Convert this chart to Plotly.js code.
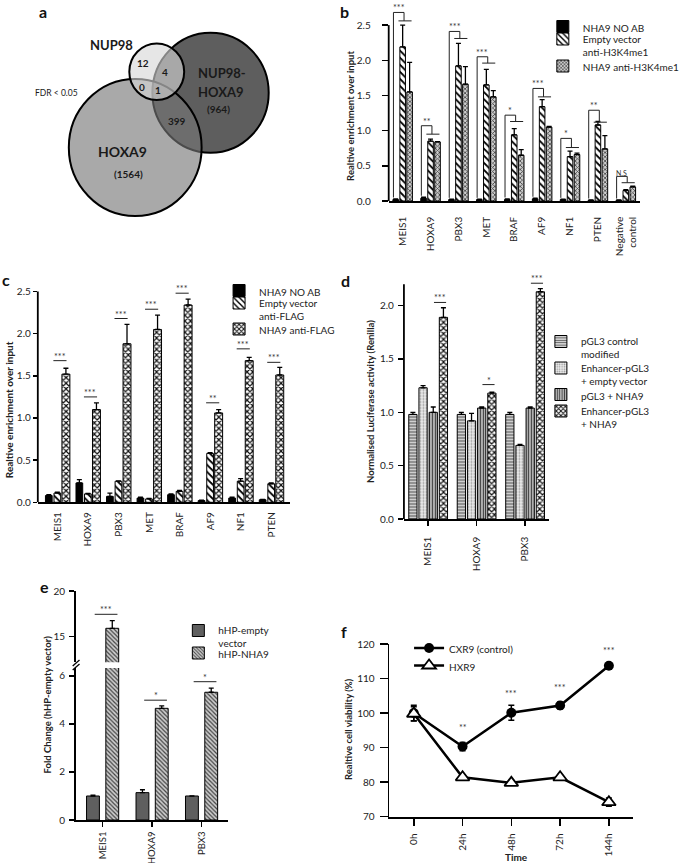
<!DOCTYPE html>
<html><head><meta charset="utf-8">
<script src="https://cdn.plot.ly/plotly-3.0.1.min.js"></script>
<style>html,body{margin:0;padding:0;background:#fff}#chart{width:685px;height:863px}</style>
</head><body><div id="chart"></div>
<script>
// ---------------- DATA ----------------
// Panel a (Venn)
const vennSetNames = ['NUP98', 'NUP98-HOXA9', 'HOXA9'];
const vennSetTotals = ['', '(964)', '(1564)'];
const vennRegionCounts = ['12', '4', '0', '1', '399'];
const vennNote = 'FDR < 0.05';

// Panel b
const bGenes = ['MEIS1','HOXA9','PBX3','MET','BRAF','AF9','NF1','PTEN','Negative<br>control'];
const bNoAb = [0.02,0.04,0.02,0.02,0.02,0.03,0.02,0.01,0.01];
const bNoAbErr = [0.01,0.015,0.005,0.005,0.01,0.01,0.005,0.005,0.005];
const bEmpty = [2.19,0.85,1.92,1.65,0.94,1.34,0.63,1.08,0.15];
const bEmptyErr = [0.31,0.03,0.32,0.22,0.09,0.10,0.08,0.05,0.01];
const bNha9 = [1.55,0.84,1.66,1.48,0.65,1.05,0.66,0.74,0.20];
const bNha9Err = [0.42,0.005,0.25,0.09,0.08,0.01,0.02,0.19,0.01];
const bSig = ['***','**','***','***','*','***','*','**','N.S'];
const bSigTop = [2.68,1.07,2.41,2.05,1.22,1.60,0.89,1.29,0.35];
const bSigLow = [2.56,0.95,2.31,1.96,1.13,1.48,0.76,1.12,0.26];
const bNames = ['NHA9 NO AB','Empty vector<br>anti-H3K4me1','NHA9 anti-H3K4me1'];

// Panel c
const cGenes = ['MEIS1','HOXA9','PBX3','MET','BRAF','AF9','NF1','PTEN'];
const cNoAb = [0.08,0.23,0.07,0.05,0.09,0.02,0.05,0.03];
const cNoAbErr = [0.01,0.04,0.04,0.01,0.01,0.005,0.01,0.005];
const cEmpty = [0.11,0.10,0.25,0.04,0.13,0.58,0.25,0.22];
const cEmptyErr = [0.01,0.005,0.005,0.005,0.01,0.01,0.03,0.01];
const cNha9 = [1.52,1.10,1.88,2.05,2.34,1.06,1.68,1.51];
const cNha9Err = [0.07,0.08,0.23,0.17,0.07,0.04,0.04,0.09];
const cSig = ['***','***','***','***','***','**','***','***'];
const cSigY = [1.68,1.25,2.18,2.29,2.48,1.18,1.82,1.66];
const cNames = ['NHA9 NO AB','Empty vector<br>anti-FLAG','NHA9 anti-FLAG'];

// Panel d
const dGenes = ['MEIS1','HOXA9','PBX3'];
const dCtrl = [0.98,0.98,0.98];
const dCtrlErr = [0.02,0.02,0.02];
const dEnhEmpty = [1.23,0.92,0.69];
const dEnhEmptyErr = [0.02,0.07,0.01];
const dPgl3Nha9 = [1.00,1.04,1.04];
const dPgl3Nha9Err = [0.05,0.01,0.01];
const dEnhNha9 = [1.89,1.18,2.13];
const dEnhNha9Err = [0.09,0.01,0.03];
const dSig = ['***','*','***'];
const dSigY = [2.03,1.26,2.21];
const dNames = ['pGL3 control<br>modified','Enhancer-pGL3<br>+ empty vector','pGL3 + NHA9','Enhancer-pGL3<br>+ NHA9'];

// Panel e
const eGenes = ['MEIS1','HOXA9','PBX3'];
const eEmpty = [1.00,1.14,1.00];
const eEmptyErr = [0.03,0.12,0.005];
const eNha9 = [15.92,4.65,5.32];
const eNha9Err = [0.83,0.10,0.17];
const eSig = ['***','*','*'];
const eSigY = [17.45,4.99,5.76];
const eNames = ['hHP-empty<br>vector','hHP-NHA9'];

// Panel f
const fTimes = ['0h','24h','48h','72h','144h'];
const fCxr9 = [100.0,90.3,100.1,102.2,113.7];
const fCxr9Err = [2.3,1.2,2.2,1.0,0.5];
const fHxr9 = [99.8,81.4,79.8,81.4,74.2];
const fHxr9Err = [2.0,0.5,0.5,0.5,1.2];
const fSig = ['','**','***','***','***'];
const fSigY = [null,94.5,104.5,106.0,116.9];
const fNames = ['CXR9 (control)','HXR9'];

// ---------------- LAYOUT HELPERS ----------------
const W = 685, H = 863;
const FONT = 'Lato, "Liberation Sans", sans-serif';
const hx = (a,b) => [a/W, b/W];
const vy = (t,b) => [1-b/H, 1-t/H];
const px = x => x/W, py = y => 1-y/H;
const TXT = '#222';

const traces = [], shapes = [], ann = [];
const OUT = {color:'#000', width:1};
const legends = {};
let legCount = 0;
function newLegend(xpx, ytop){
  legCount++;
  const id = legCount === 1 ? 'legend' : 'legend' + legCount;
  legends[id] = {x:px(xpx),y:py(ytop),xanchor:'left',yanchor:'top',valign:'top',bgcolor:'rgba(0,0,0,0)',
    font:{family:FONT,size:10,color:TXT},tracegroupgap:0,itemclick:false,itemdoubleclick:false,itemwidth:30};
  return id;
}

function errUp(arr){return {type:'data',array:arr,arrayminus:arr.map(()=>0),symmetric:false,color:'#000',thickness:1.3,width:2.5};}
function addBar(xa,ya,cats,vals,errs,name,center,wid,marker,legend){
  traces.push({type:'bar',x:cats,y:vals,error_y:errUp(errs),name:name,offset:center-wid/2,width:wid,
    xaxis:xa,yaxis:ya,marker:Object.assign({line:OUT},marker),legend:legend||'legend',showlegend:!!legend,hoverinfo:'skip'});
}
function seg(xr,yr,x0,y0,x1,y1,w){shapes.push({type:'line',xref:xr,yref:yr,x0:x0,y0:y0,x1:x1,y1:y1,line:{color:'#222',width:w||1}});}
function star(xr,yr,x,y,t,sz){ann.push({xref:xr,yref:yr,x:x,y:y,text:t,showarrow:false,yanchor:'bottom',yshift:-3,font:{family:FONT,size:sz||9,color:'#333'}});}
function ax(o){return Object.assign({showgrid:false,zeroline:false,showline:true,linecolor:'#000',linewidth:1.8,
  ticks:'outside',ticklen:5,tickwidth:1.5,tickcolor:'#000',tickfont:{family:FONT,size:10,color:TXT},fixedrange:true},o);}
function yline(xr,yr,top){shapes.push({type:'line',xref:xr+' domain',yref:yr,x0:0,x1:0,y0:0,y1:top,line:{color:'#000',width:1.8}});}
function ytitle(text,xpx,ypx,size){ann.push({xref:'paper',yref:'paper',x:px(xpx),y:py(ypx),text:'<b>'+text+'</b>',textangle:-90,showarrow:false,
  xanchor:'center',yanchor:'middle',font:{family:FONT,size:size||10,color:TXT}});}
function letter(t,xpx,ypx){ann.push({xref:'paper',yref:'paper',x:px(xpx),y:py(ypx),text:'<b>'+t+'</b>',showarrow:false,
  xanchor:'left',yanchor:'top',font:{family:FONT,size:16,color:'#111'}});}

// ---------------- PANEL B ----------------
const patHatch = {shape:'\\',fgcolor:'#000',bgcolor:'#fff',size:5,solidity:0.35};
addBar('x','y',bGenes,bNoAb,bNoAbErr,bNames[0],-0.25,0.2,{color:'#000'},newLegend(560,13.5));
addBar('x','y',bGenes,bEmpty,bEmptyErr,bNames[1],0,0.2,{color:'#fff',pattern:patHatch},newLegend(560,26));
addBar('x','y',bGenes,bNha9,bNha9Err,bNames[2],0.25,0.2,{color:'#ccc',pattern:{shape:'x',fgcolor:'#444',bgcolor:'#ccc',size:3,solidity:0.45}},newLegend(560,53));
yline('x','y',2.5);
bGenes.forEach((g,i)=>{
  const xl=i-0.33, xs=i+0.05;
  seg('x','y',xl,bNoAb[i]+bNoAbErr[i]+0.02,xl,bSigTop[i]);
  seg('x','y',xl,bSigTop[i],xs,bSigTop[i]);
  seg('x','y',xs,bSigTop[i],xs,bSigLow[i]);
  seg('x','y',i-0.15,bSigLow[i],i+0.32,bSigLow[i]);
  star('x','y',(xl+xs)/2,bSigTop[i],bSig[i],bSig[i]==='N.S'?7:9);
});
ytitle('Realtive enrichment over input',362,116,9.5);
letter('b',349,0);

// ---------------- PANEL C ----------------
addBar('x2','y2',cGenes,cNoAb,cNoAbErr,cNames[0],-0.29,0.22,{color:'#000'},newLegend(226,277.5));
addBar('x2','y2',cGenes,cEmpty,cEmptyErr,cNames[1],-0.01,0.22,{color:'#fff',pattern:patHatch},newLegend(226,290));
addBar('x2','y2',cGenes,cNha9,cNha9Err,cNames[2],0.27,0.26,{color:'#fff',pattern:{shape:'x',fgcolor:'#111',bgcolor:'#fff',size:4,solidity:0.5}},newLegend(226,316));
yline('x2','y2',2.5);
cGenes.forEach((g,i)=>{
  seg('x2','y2',i-0.14,cSigY[i],i+0.29,cSigY[i]);
  star('x2','y2',i+0.07,cSigY[i],cSig[i]);
});
ytitle('Realtive enrichment over input',9.5,410,10);
letter('c',0,268);

// ---------------- PANEL D ----------------
addBar('x3','y3',dGenes,dCtrl,dCtrlErr,dNames[0],-0.315,0.17,{color:'#ddd',pattern:{shape:'-',fgcolor:'#555',bgcolor:'#ddd',size:3,solidity:0.4}},newLegend(558,328.5));
addBar('x3','y3',dGenes,dEnhEmpty,dEnhEmptyErr,dNames[1],-0.105,0.17,{color:'#e8e8e8',pattern:{shape:'.',fgcolor:'#999',bgcolor:'#ececec',size:3,solidity:0.3}},newLegend(558,355));
addBar('x3','y3',dGenes,dPgl3Nha9,dPgl3Nha9Err,dNames[2],0.105,0.17,{color:'#bbb',pattern:{shape:'|',fgcolor:'#444',bgcolor:'#bbb',size:3,solidity:0.4}},newLegend(558,381.5));
addBar('x3','y3',dGenes,dEnhNha9,dEnhNha9Err,dNames[3],0.315,0.17,{color:'#fff',pattern:{shape:'x',fgcolor:'#111',bgcolor:'#fff',size:4,solidity:0.5}},newLegend(558,398));
yline('x3','y3',2.2);
dGenes.forEach((g,i)=>{
  seg('x3','y3',i+0.12,dSigY[i],i+0.37,dSigY[i]);
  star('x3','y3',i+0.245,dSigY[i],dSig[i]);
});
ytitle('Normalised Luciferase activity (Renilla)',381.7,401,9.5);
letter('d',350,269);

// ---------------- PANEL E ----------------
const eHatch = {shape:'\\',fgcolor:'#444',bgcolor:'#ccc',size:3,solidity:0.4};
const eLeg = [newLegend(184,617.5), newLegend(184,640)];
['y4','y5'].forEach((ya,k)=>{
  addBar('x4',ya,eGenes,eEmpty,eEmptyErr,eNames[0],-0.195,0.26,{color:'#5f5f5f'},k===0?eLeg[0]:null);
  addBar('x4',ya,eGenes,eNha9,eNha9Err,eNames[1],0.195,0.26,{color:'#ccc',pattern:eHatch},k===0?eLeg[1]:null);
});
const eBottomTop = 6.33;
eGenes.forEach((g,i)=>{
  const ya = eSigY[i] > eBottomTop ? 'y5' : 'y4';
  seg('x4',ya,i-0.16,eSigY[i],i+0.3,eSigY[i]);
  star('x4',ya,i+0.07,eSigY[i],eSig[i]);
});
// axis break marks
[[0,0],[0,4]].forEach(o=>shapes.push({type:'line',xref:'paper',yref:'paper',x0:px(75),y0:py(666+o[1]),x1:px(82),y1:py(660+o[1]),
  line:{color:'#000',width:1.3}}));
ytitle('Fold Change (hHP-empty vector)',48,705,9.5);
letter('e',39,575);

// ---------------- PANEL F ----------------
traces.push({type:'scatter',mode:'lines+markers',x:fTimes,y:fCxr9,name:fNames[0],xaxis:'x5',yaxis:'y6',legend:newLegend(422,635),
  line:{color:'#000',width:2.5},marker:{symbol:'circle',size:10,color:'#000'},
  error_y:{type:'data',array:fCxr9Err,color:'#000',thickness:1.5,width:3},hoverinfo:'skip'});
traces.push({type:'scatter',mode:'lines+markers',x:fTimes,y:fHxr9,name:fNames[1],xaxis:'x5',yaxis:'y6',legend:newLegend(422,652.5),
  line:{color:'#000',width:2.5},marker:{symbol:'triangle-up',size:12,color:'#fff',line:{color:'#000',width:1.8}},
  error_y:{type:'data',array:fHxr9Err,color:'#000',thickness:1.5,width:3},hoverinfo:'skip'});
fTimes.forEach((t,i)=>{ if(fSig[i]) star('x5','y6',i,fSigY[i],fSig[i]); });
ytitle('Realtive cell viability (%)',359,729,9.5);
ann.push({xref:'paper',yref:'paper',x:px(533),y:py(857),text:'<b>Time</b>',showarrow:false,xanchor:'center',yanchor:'middle',
  font:{family:FONT,size:10,color:TXT}});
letter('f',350,620);

// ---------------- PANEL A (Venn) ----------------
traces.push({type:'scatter',x:[],y:[],xaxis:'x6',yaxis:'y7',showlegend:false,hoverinfo:'skip'});
const vennCircles = [
  {cx:217.2, cy:92.8, r:60.0, fill:'#5e5e5e'},
  {cx:139.5, cy:147.5, r:68.5, fill:'rgba(119,119,119,0.63)'},
  {cx:161.7, cy:71.7, r:28.3, fill:'rgba(214,214,214,0.62)'}
];
vennCircles.forEach(c=>shapes.push({type:'circle',xref:'x6',yref:'y7',x0:c.cx-c.r,x1:c.cx+c.r,y0:c.cy-c.r,y1:c.cy+c.r,
  fillcolor:c.fill,line:{color:'#000',width:2},layer:'above'}));
function vt(t,x,y,sz,bold){ann.push({xref:'x6',yref:'y7',x:x,y:y,text:bold?'<b>'+t+'</b>':t,showarrow:false,
  xanchor:'center',yanchor:'middle',font:{family:FONT,size:sz,color:'#1a1a1a'}});}
vt(vennSetNames[0],115,45,13,true);
vt(vennSetNames[1].split('-')[0]+'-',229,73,13,true);
vt(vennSetNames[1].split('-')[1],227,92,13,true);
vt(vennSetTotals[1],225,108.5,10,true);
vt(vennSetNames[2],126.7,151.7,14,true);
vt(vennSetTotals[2],132.7,173.5,10,true);
const vennRegionPos = [[147.7,63.3],[170.7,72.3],[146,87.3],[163.3,90],[182.7,120.7]];
vennRegionCounts.forEach((t,i)=>vt(t,vennRegionPos[i][0],vennRegionPos[i][1],10,true));
vt(vennNote,58.3,92.7,8.5,false);
letter('a',38,0);

// ---------------- LAYOUT ----------------
const layout = Object.assign({
  width:W, height:H, margin:{l:0,r:0,t:0,b:0}, paper_bgcolor:'#fff', plot_bgcolor:'rgba(0,0,0,0)',
  barmode:'overlay', font:{family:FONT,size:10,color:TXT}, hovermode:false,
  xaxis: ax({domain:hx(401,660),anchor:'y',type:'category',range:[-0.5,8.5],ticks:'',tickangle:-90,ticklabelstandoff:10}),
  yaxis: ax({domain:vy(4,201),anchor:'x',range:[0,2.8],showline:false,tickvals:[0,0.5,1,1.5,2,2.5],tickformat:'.1f',ticklen:6,ticklabelstandoff:9}),
  xaxis2: ax({domain:hx(39,299),anchor:'y2',type:'category',range:[-0.65,7.6],ticks:'',tickangle:-90,ticklabelstandoff:4}),
  yaxis2: ax({domain:vy(281.4,502.3),anchor:'x2',range:[0,2.62],showline:false,tickvals:[0,0.5,1,1.5,2,2.5],tickformat:'.1f',ticklen:4}),
  xaxis3: ax({domain:hx(416.7,566.7),anchor:'y3',type:'category',range:[-0.5,2.5],tickangle:-90,ticklen:5,ticklabelstandoff:7}),
  yaxis3: ax({domain:vy(271.5,519),anchor:'x3',range:[0,2.32],showline:false,tickvals:[0,0.5,1,1.5,2],tickformat:'.1f',ticklen:5,ticklabelstandoff:2}),
  xaxis4: ax({domain:hx(78.3,235),anchor:'y4',type:'category',range:[-0.54,2.53],tickangle:-90,ticklen:5,ticklabelstandoff:1,
    tickfont:{family:FONT,size:9.5,color:TXT}}),
  yaxis4: ax({domain:vy(668,820),anchor:'x4',range:[0,6.33],tickvals:[0,2,4,6],ticklen:5,ticklabelstandoff:2}),
  yaxis5: ax({domain:vy(591,662.3),anchor:'x4',range:[12.2,20],tickvals:[15,20],ticklen:5,ticklabelstandoff:2}),
  xaxis5: ax({domain:hx(401.7,653.3),anchor:'y6',type:'category',range:[-0.5,4.5],tickangle:-90,ticklen:7,ticklabelstandoff:4}),
  yaxis6: ax({domain:vy(644,816.7),anchor:'x5',range:[70,120],tickvals:[70,80,90,100,110,120],ticklen:8,ticklabelstandoff:3}),
  xaxis6: {domain:hx(0,340),anchor:'y7',range:[0,340],visible:false,fixedrange:true},
  yaxis7: {domain:vy(0,240),anchor:'x6',range:[240,0],visible:false,fixedrange:true},
  shapes: shapes, annotations: ann
}, legends);

Plotly.newPlot('chart', traces, layout, {staticPlot:true, displayModeBar:false});
</script></body></html>
